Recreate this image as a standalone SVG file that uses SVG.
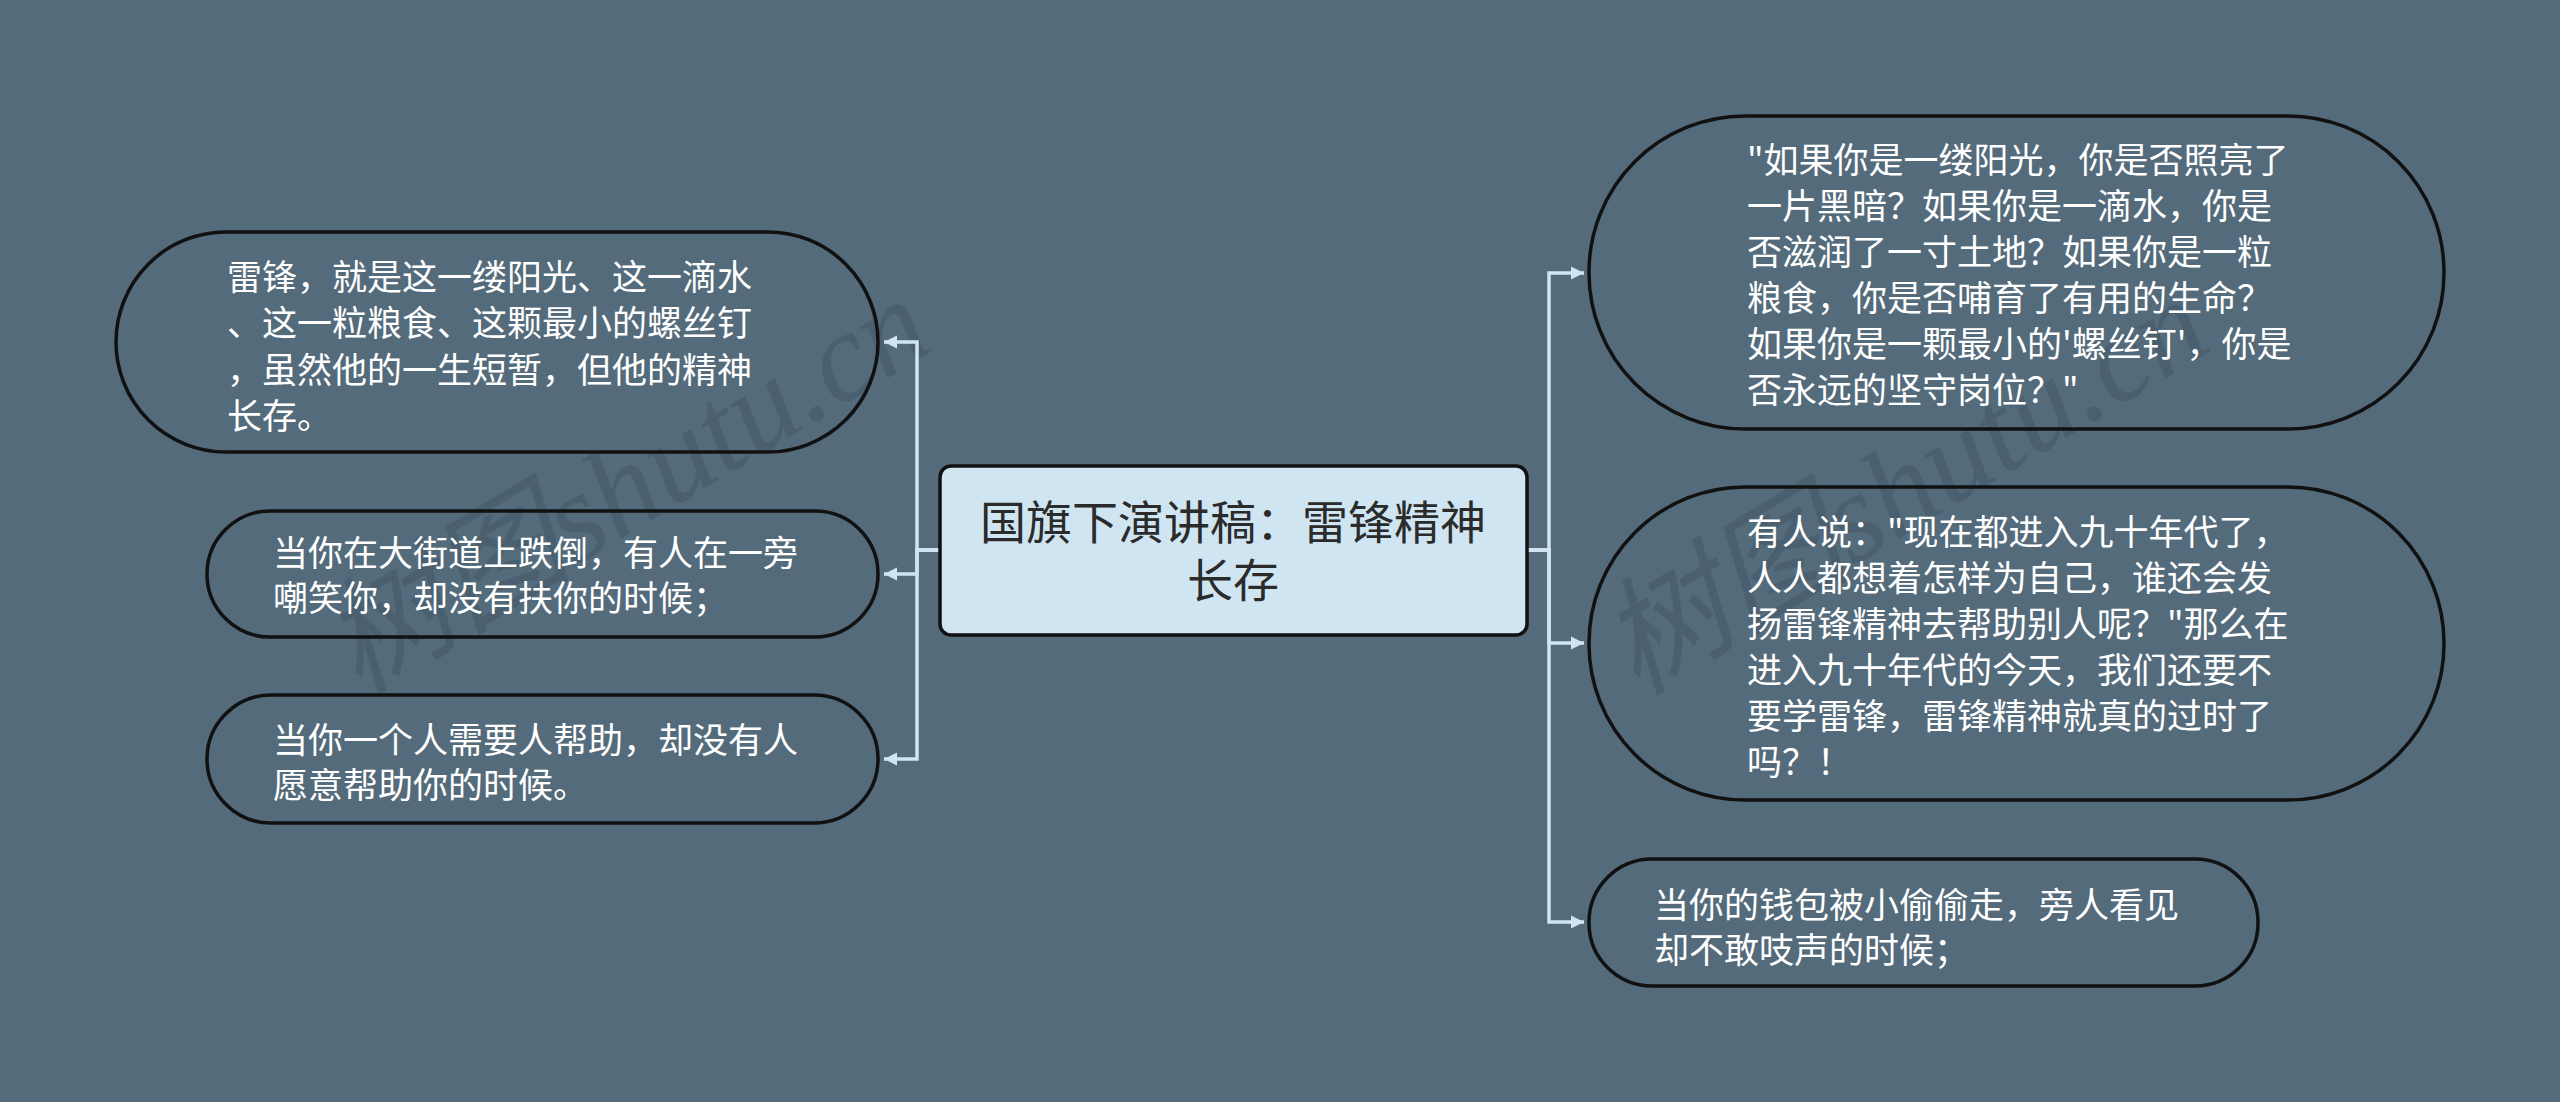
<svg xmlns="http://www.w3.org/2000/svg" width="2560" height="1102" viewBox="0 0 2560 1102">
  <defs>
    <style>
      .bg { fill: #546b7b; }
      .node { fill: none; stroke: #111; stroke-width: 3.5; }
      .root { fill: #cfe6f2; stroke: #111; stroke-width: 3.5; }
      .txt { font-family: "Noto Sans CJK SC", "Microsoft YaHei", sans-serif; font-size: 35px; fill: #ffffff; }
      .rtxt { font-family: "Noto Sans CJK SC", "Microsoft YaHei", sans-serif; font-size: 46px; fill: #2b2b2b; text-anchor: middle; }
      .conn { fill: none; stroke: #cfe6f2; stroke-width: 3.5; }
      .wm { font-family: "Liberation Serif", "Noto Sans CJK SC", serif; font-style: italic; font-size: 126px; fill: #1a2530; fill-opacity: 0.16; text-anchor: middle; }
    </style>
    <marker id="arr" markerUnits="userSpaceOnUse" markerWidth="16" markerHeight="14" refX="13" refY="7" orient="auto">
      <path d="M0,0.5 L13,7 L0,13.5 Z" fill="#cfe6f2"/>
    </marker>
  </defs>
  <rect class="bg" x="0" y="0" width="2560" height="1102"/>

  <g id="watermarks">
    <text class="wm" transform="translate(648,522) rotate(-31)">树图shutu.cn</text>
    <text class="wm" transform="translate(1926,522) rotate(-31)">树图shutu.cn</text>
  </g>

  <g id="connectors">
    <path class="conn" d="M940,550 H917 V342 H884" marker-end="url(#arr)"/>
    <path class="conn" d="M940,550 H917 V574 H884" marker-end="url(#arr)"/>
    <path class="conn" d="M940,550 H917 V759 H884" marker-end="url(#arr)"/>
    <path class="conn" d="M1527,550 H1549 V273 H1584" marker-end="url(#arr)"/>
    <path class="conn" d="M1527,550 H1549 V643 H1584" marker-end="url(#arr)"/>
    <path class="conn" d="M1527,550 H1549 V922 H1584" marker-end="url(#arr)"/>
  </g>

  <g id="root">
    <rect class="root" x="940" y="466" width="587" height="169" rx="11"/>
    <text class="rtxt" x="1233" y="539">国旗下演讲稿：雷锋精神</text>
    <text class="rtxt" x="1233" y="597">长存</text>
  </g>

  <g id="left1">
    <rect class="node" x="116" y="232" width="762" height="220" rx="110"/>
    <text class="txt" x="227" y="290">雷锋，就是这一缕阳光、这一滴水</text>
    <text class="txt" x="227" y="336">、这一粒粮食、这颗最小的螺丝钉</text>
    <text class="txt" x="227" y="383">，虽然他的一生短暂，但他的精神</text>
    <text class="txt" x="227" y="429">长存。</text>
  </g>

  <g id="left2">
    <rect class="node" x="207" y="511" width="671" height="126" rx="63"/>
    <text class="txt" x="273" y="566">当你在大街道上跌倒，有人在一旁</text>
    <text class="txt" x="273" y="611">嘲笑你，却没有扶你的时候；</text>
  </g>

  <g id="left3">
    <rect class="node" x="207" y="695" width="671" height="128" rx="64"/>
    <text class="txt" x="273" y="753">当你一个人需要人帮助，却没有人</text>
    <text class="txt" x="273" y="798">愿意帮助你的时候。</text>
  </g>

  <g id="right1">
    <rect class="node" x="1589" y="116" width="855" height="313" rx="156"/>
    <text class="txt" x="1747" y="173">"如果你是一缕阳光，你是否照亮了</text>
    <text class="txt" x="1747" y="219">一片黑暗？如果你是一滴水，你是</text>
    <text class="txt" x="1747" y="265">否滋润了一寸土地？如果你是一粒</text>
    <text class="txt" x="1747" y="311">粮食，你是否哺育了有用的生命？</text>
    <text class="txt" x="1747" y="357">如果你是一颗最小的'螺丝钉'，你是</text>
    <text class="txt" x="1747" y="403">否永远的坚守岗位？"</text>
  </g>

  <g id="right2">
    <rect class="node" x="1589" y="487" width="855" height="313" rx="156"/>
    <text class="txt" x="1747" y="545">有人说："现在都进入九十年代了，</text>
    <text class="txt" x="1747" y="591">人人都想着怎样为自己，谁还会发</text>
    <text class="txt" x="1747" y="637">扬雷锋精神去帮助别人呢？"那么在</text>
    <text class="txt" x="1747" y="683">进入九十年代的今天，我们还要不</text>
    <text class="txt" x="1747" y="729">要学雷锋，雷锋精神就真的过时了</text>
    <text class="txt" x="1747" y="775">吗？！</text>
  </g>

  <g id="right3">
    <rect class="node" x="1589" y="859" width="669" height="127" rx="63"/>
    <text class="txt" x="1654" y="918">当你的钱包被小偷偷走，旁人看见</text>
    <text class="txt" x="1654" y="963">却不敢吱声的时候；</text>
  </g>
</svg>
